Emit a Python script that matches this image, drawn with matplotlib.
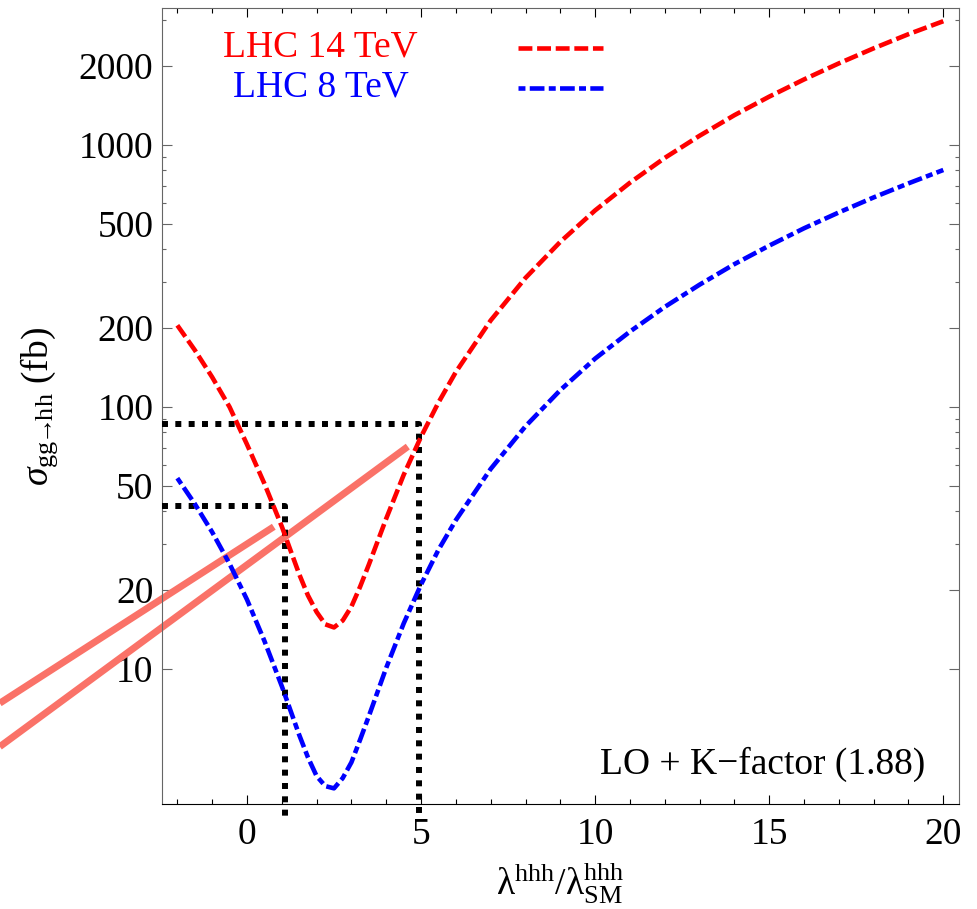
import matplotlib
matplotlib.use('Agg')
import matplotlib.pyplot as plt
from matplotlib.ticker import MultipleLocator, FixedLocator, FuncFormatter, NullFormatter

plt.rcParams['font.family'] = ['Liberation Serif', 'DejaVu Serif']
plt.rcParams['mathtext.fontset'] = 'custom'
plt.rcParams['mathtext.rm'] = 'Liberation Serif'
plt.rcParams['mathtext.it'] = 'Liberation Serif:italic'
plt.rcParams['lines.scale_dashes'] = False

# lambda_hhh / lambda_hhh(SM)
lam = [-2, -1.5, -1, -0.5, 0, 0.5, 1, 1.5, 1.75, 2, 2.25, 2.5, 2.75, 3, 3.25, 3.5,
       4, 4.5, 5, 5.5, 6, 7, 8, 9, 10, 11, 12, 13, 14, 15, 16, 17, 18, 19, 20]

# cross sections in fb
sigma_14 = [205, 165, 130, 100, 72, 51, 35, 23, 19.1, 16.5, 14.8, 14.4, 15.3, 17.3, 20.6, 25,
            37.5, 55, 77, 104, 136, 214, 311, 427, 563, 718, 893, 1085, 1300, 1530, 1780, 2050,
            2340, 2650, 2970]
sigma_8 = [53.5, 42.7, 33.3, 25.2, 18.4, 12.8, 8.6, 5.6, 4.6, 3.9, 3.57, 3.5, 3.83, 4.4, 5.37, 6.6,
           10.1, 14.9, 21, 28.5, 37, 58, 84.4, 116, 153, 194, 241, 293, 351, 413, 481, 553,
           631, 714, 803]

# salmon straight lines (end points)
line_a_x = [-7.1, 0.77]
line_a_y = [7.4, 34.9]
line_b_x = [-7.1, 4.62]
line_b_y = [5.05, 70.6]

# dotted boxes: corner points and lower end
box_x = [1.08, 4.94]
box_y = [42.0, 86.3]
box_floor = 2.73

yticks = [10, 20, 50, 100, 200, 500, 1000, 2000]
yminor = [30, 40, 60, 70, 80, 90, 300, 400, 600, 700, 800, 900, 3000]

fig = plt.figure(figsize=(9.78, 9.09), dpi=100)
ax = fig.add_axes([0.1653, 0.1155, 0.8156, 0.8757])
ax.set_yscale('log')
ax.set_xlim(-2.45, 20.46)
ax.set_ylim(3.05, 3335)

for xs, ys in ((line_a_x, line_a_y), (line_b_x, line_b_y)):
    ax.plot(xs, ys, color='#fa7268', lw=5, solid_capstyle='butt', clip_on=False, zorder=2)

x0 = ax.get_xlim()[0]
for bx, by in zip(box_x, box_y):
    ax.plot([x0, bx, bx], [by, by, box_floor], color='black', lw=4.3,
            dashes=(4.3, 5.3), clip_on=False, zorder=3)

ax.plot(lam, sigma_14, color='red', lw=3.3, dashes=(10, 3.4), zorder=4)
ax.plot(lam, sigma_8, color='blue', lw=3.3, dashes=(5, 3.1, 10.6, 3.1), zorder=4)

# legend
ax.plot([0.447, 0.553], [0.950, 0.950], transform=ax.transAxes, color='red', lw=3.3, dashes=(10, 3.4))
ax.plot([0.447, 0.553], [0.899, 0.899], transform=ax.transAxes, color='blue', lw=3.3,
        dashes=(5, 3.1, 10.6, 3.1))
ax.text(0.199, 0.939, 'LHC 14 TeV', color='red', ha='center', va='baseline', fontsize=27,
        transform=ax.transAxes)
ax.text(0.199, 0.889, 'LHC 8 TeV', color='blue', ha='center', va='baseline', fontsize=27,
        transform=ax.transAxes)
ax.text(0.957, 0.0377, 'LO + K\u2212factor (1.88)', ha='right', va='baseline', fontsize=27,
        transform=ax.transAxes)

# axes styling
ax.xaxis.set_major_locator(MultipleLocator(5))
ax.xaxis.set_minor_locator(MultipleLocator(1))
ax.yaxis.set_major_locator(FixedLocator(yticks))
ax.yaxis.set_major_formatter(FuncFormatter(lambda v, p: f'{v:g}'))
ax.yaxis.set_minor_locator(FixedLocator(yminor))
ax.yaxis.set_minor_formatter(NullFormatter())

ax.tick_params(which='both', direction='in', top=True, right=True)
ax.tick_params(axis='x', which='major', length=6.5, width=0.8, labelsize=27, pad=10, color='black')
ax.tick_params(axis='x', which='minor', length=3.4, width=0.8, color='black')
ax.tick_params(axis='y', which='major', length=7, width=0.8, labelsize=27, pad=6, color='#666666')
ax.tick_params(axis='y', which='minor', length=2.7, width=0.8, color='#666666')

for side in ['left', 'right', 'top']:
    ax.spines[side].set_color('#666666')
    ax.spines[side].set_linewidth(0.8)
ax.spines['bottom'].set_color('black')
ax.spines['bottom'].set_linewidth(0.8)

ax.set_ylabel(r'$\sigma_{\mathrm{gg\!\!\rightarrow\!\!hh}}$ (fb)', fontsize=27)
ax.set_xlabel(r'$\mathrm{λ}^{\mathrm{hhh}}/\mathrm{λ}^{\mathrm{hhh}}_{\mathrm{SM}}$', fontsize=27)
ax.yaxis.set_label_coords(-0.128, 0.5)
ax.xaxis.set_label_coords(0.5, -0.071)

fig.savefig('out.png', dpi=100)
